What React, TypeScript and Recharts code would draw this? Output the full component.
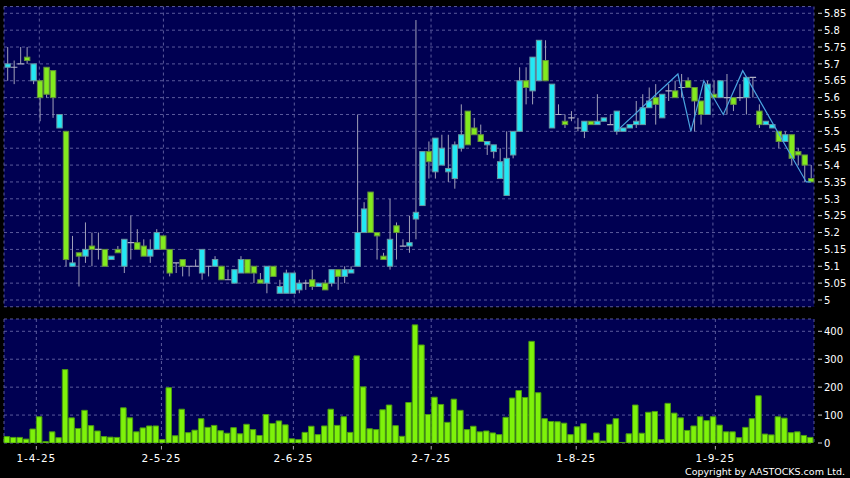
import React from 'react';
import { ComposedChart, Bar, Line, XAxis, YAxis, CartesianGrid } from 'recharts';

// ---- data (one entry per trading day, index 0..124) ----
const opens = [
  5.69, 5.69, 5.70, 5.72, 5.65, 5.65, 5.69, 5.68, 5.51, 5.50,
  5.10, 5.14, 5.13, 5.16, 5.15, 5.15, 5.12, 5.15, 5.10, 5.17,
  5.17, 5.16, 5.13, 5.15, 5.19, 5.15, 5.11, 5.12, 5.10, 5.10,
  5.08, 5.10, 5.10, 5.10, 5.06, 5.05, 5.08, 5.12, 5.10, 5.06,
  5.05, 5.10, 5.02, 5.02, 5.02, 5.03, 5.05, 5.06, 5.04, 5.05,
  5.05, 5.09, 5.07, 5.08, 5.10, 5.20, 5.32, 5.20, 5.13, 5.10,
  5.22, 5.16, 5.16, 5.24, 5.28, 5.44, 5.38, 5.40, 5.38, 5.36,
  5.45, 5.56, 5.51, 5.49, 5.46, 5.44, 5.36, 5.31, 5.43, 5.50,
  5.65, 5.62, 5.65, 5.71, 5.51, 5.55, 5.53, 5.54, 5.51, 5.50,
  5.53, 5.52, 5.53, 5.52, 5.50, 5.50, 5.51, 5.52, 5.52, 5.57,
  5.60, 5.54, 5.62, 5.62, 5.63, 5.65, 5.63, 5.59, 5.55, 5.61,
  5.60, 5.60, 5.60, 5.60, 5.60, 5.66, 5.56, 5.52, 5.51, 5.50,
  5.47, 5.49, 5.44, 5.43, 5.36,
];
const highs = [
  5.75, 5.71, 5.75, 5.75, 5.70, 5.65, 5.69, 5.68, 5.55, 5.50,
  5.19, 5.14, 5.23, 5.20, 5.20, 5.15, 5.13, 5.16, 5.18, 5.25,
  5.21, 5.18, 5.18, 5.21, 5.19, 5.15, 5.11, 5.12, 5.10, 5.12,
  5.15, 5.10, 5.13, 5.10, 5.09, 5.09, 5.13, 5.12, 5.10, 5.08,
  5.10, 5.10, 5.06, 5.09, 5.08, 5.06, 5.06, 5.09, 5.05, 5.06,
  5.09, 5.09, 5.10, 5.10, 5.55, 5.29, 5.32, 5.20, 5.14, 5.30,
  5.23, 5.18, 5.25, 5.83, 5.44, 5.47, 5.48, 5.49, 5.49, 5.47,
  5.58, 5.56, 5.54, 5.52, 5.47, 5.46, 5.45, 5.50, 5.50, 5.69,
  5.69, 5.72, 5.77, 5.77, 5.64, 5.58, 5.55, 5.56, 5.54, 5.53,
  5.53, 5.61, 5.54, 5.55, 5.56, 5.51, 5.52, 5.59, 5.61, 5.63,
  5.64, 5.61, 5.64, 5.65, 5.67, 5.66, 5.63, 5.59, 5.65, 5.65,
  5.65, 5.67, 5.60, 5.64, 5.66, 5.66, 5.58, 5.53, 5.52, 5.50,
  5.50, 5.49, 5.45, 5.43, 5.40,
];
const lows = [
  5.65, 5.64, 5.70, 5.70, 5.64, 5.53, 5.60, 5.54, 5.51, 5.10,
  5.10, 5.04, 5.11, 5.10, 5.12, 5.10, 5.12, 5.14, 5.08, 5.12,
  5.15, 5.13, 5.11, 5.15, 5.15, 5.07, 5.08, 5.07, 5.07, 5.10,
  5.06, 5.07, 5.10, 5.06, 5.06, 5.05, 5.08, 5.08, 5.05, 5.05,
  5.02, 5.07, 5.02, 5.02, 5.02, 5.02, 5.03, 5.03, 5.04, 5.03,
  5.04, 5.03, 5.05, 5.08, 5.10, 5.20, 5.20, 5.12, 5.12, 5.09,
  5.12, 5.16, 5.14, 5.18, 5.28, 5.36, 5.36, 5.40, 5.35, 5.33,
  5.44, 5.46, 5.49, 5.47, 5.43, 5.42, 5.36, 5.31, 5.42, 5.50,
  5.58, 5.58, 5.65, 5.65, 5.51, 5.55, 5.51, 5.53, 5.50, 5.48,
  5.52, 5.52, 5.53, 5.52, 5.49, 5.50, 5.51, 5.51, 5.52, 5.57,
  5.52, 5.54, 5.59, 5.60, 5.60, 5.63, 5.50, 5.52, 5.55, 5.60,
  5.60, 5.55, 5.56, 5.59, 5.55, 5.60, 5.51, 5.52, 5.51, 5.45,
  5.47, 5.40, 5.40, 5.35, 5.35,
];
const closes = [
  5.70, 5.69, 5.70, 5.71, 5.70, 5.60, 5.61, 5.60, 5.55, 5.12,
  5.11, 5.13, 5.15, 5.15, 5.15, 5.10, 5.13, 5.14, 5.18, 5.17,
  5.15, 5.13, 5.15, 5.20, 5.15, 5.08, 5.11, 5.10, 5.10, 5.10,
  5.15, 5.10, 5.12, 5.06, 5.06, 5.09, 5.12, 5.08, 5.08, 5.05,
  5.10, 5.07, 5.04, 5.08, 5.08, 5.05, 5.05, 5.04, 5.05, 5.03,
  5.09, 5.07, 5.09, 5.09, 5.20, 5.27, 5.20, 5.19, 5.12, 5.18,
  5.20, 5.16, 5.17, 5.26, 5.44, 5.41, 5.48, 5.45, 5.39, 5.46,
  5.49, 5.46, 5.49, 5.47, 5.47, 5.46, 5.41, 5.42, 5.50, 5.65,
  5.63, 5.72, 5.77, 5.65, 5.64, 5.55, 5.52, 5.54, 5.51, 5.53,
  5.52, 5.53, 5.54, 5.52, 5.56, 5.51, 5.52, 5.53, 5.57, 5.59,
  5.58, 5.61, 5.62, 5.60, 5.63, 5.63, 5.59, 5.55, 5.64, 5.60,
  5.65, 5.60, 5.58, 5.60, 5.66, 5.66, 5.52, 5.53, 5.52, 5.47,
  5.49, 5.42, 5.43, 5.40, 5.35,
];
const volumes = [
  23, 20, 20, 14, 50, 94, 5, 40, 19, 263,
  90, 52, 117, 62, 43, 23, 21, 20, 126, 90,
  40, 54, 61, 61, 12, 198, 26, 121, 37, 46,
  87, 56, 63, 44, 35, 55, 33, 67, 48, 27,
  102, 70, 79, 65, 15, 12, 38, 60, 30, 61,
  121, 63, 94, 38, 312, 201, 51, 48, 119, 136,
  62, 24, 145, 423, 351, 102, 164, 138, 74, 157,
  117, 48, 60, 40, 43, 36, 30, 92, 161, 188,
  163, 364, 180, 87, 77, 76, 71, 30, 58, 69,
  10, 36, 7, 67, 87, 2, 33, 136, 35, 110,
  113, 12, 142, 107, 90, 45, 61, 94, 80, 94,
  64, 40, 40, 19, 56, 87, 169, 32, 29, 94,
  89, 37, 40, 27, 20,
];
// zig-zag overlay line (x = day index, y = price)
const zigzagX = [94, 103.5, 105.5, 107.5, 110.5, 113.5, 123.3, 124];
const zigzagY = [5.50, 5.67, 5.50, 5.65, 5.55, 5.68, 5.35, 5.35];
// axis ticks
const dateTickPos = [4.95, 24.1, 44.3, 65.4, 87.6, 108.9];
const dateTickLabels = ['1-4-25', '2-5-25', '2-6-25', '2-7-25', '1-8-25', '1-9-25'];
const priceTicks = [5, 5.05, 5.1, 5.15, 5.2, 5.25, 5.3, 5.35, 5.4, 5.45, 5.5, 5.55, 5.6, 5.65, 5.7, 5.75, 5.8, 5.85];
const volumeTicks = [0, 100, 200, 300, 400];

// ---- built tables ----
const chartData = opens.map((o, i) => ({
  idx: i,
  open: o,
  high: highs[i],
  low: lows[i],
  close: closes[i],
  vol: volumes[i],
}));
const zigData = zigzagX.map((x, i) => ({ zx: x, zy: zigzagY[i] }));

// ---- styles / layout ----
const PLOT_BG = '#000052';
const GRID = '#5a5a9c';
const CYAN = '#22e8f4';
const CYAN_EDGE = '#6a96a2';
const GREEN = '#82ea1e';
const GREEN_EDGE = '#64923c';
const WICK = '#a0a0b8';
const DOJI = '#b0b0c4';
const VOL_FILL = '#7ef20a';
const VOL_EDGE = '#4a9a12';
const FONT = '"DejaVu Sans", Verdana, sans-serif';
const VOL_CHART_H = 168;
const VOL_XAXIS_H = 35;
const VOL_PLOT_BOTTOM = VOL_CHART_H - VOL_XAXIS_H; // in the volume chart's own svg

const fmtNum = (v: number) => String(Number(v.toFixed(2)));

const RightTick = (props: any) => {
  const { x, y, payload } = props;
  return (
    <g>
      <line x1={x + 4} x2={x + 8} y1={y} y2={y} stroke="#d0d0d0" strokeWidth={1} />
      <text x={x + 10} y={y} dy={3.7} fill="#ffffff" fontSize={10} fontFamily={FONT}>
        {fmtNum(payload.value)}
      </text>
    </g>
  );
};

const DateTick = (props: any) => {
  const { x, payload } = props;
  const k = dateTickPos.indexOf(payload.value);
  const label = k >= 0 ? dateTickLabels[k] : '';
  const y = VOL_PLOT_BOTTOM;
  return (
    <g>
      <line x1={x} x2={x} y1={y + 3} y2={y + 6.5} stroke="#b0b0b0" strokeWidth={1} />
      <text x={x} y={y + 19} textAnchor="middle" fill="#ffffff" fontSize={10.5} letterSpacing={0.9} fontFamily={FONT}>
        {label}
      </text>
    </g>
  );
};

const Candle = (props: any) => {
  const { x, y, width, height, payload } = props;
  if (x == null || y == null || !payload) return null;
  const { open, close, high, low } = payload;
  const top = Math.min(y, y + height);
  const span = Math.abs(height);
  const k = high - low > 0 ? span / (high - low) : 0;
  const py = (p: number) => top + (high - p) * k;
  const cx = x + width / 2;
  const yo = py(open);
  const yc = py(close);
  const bodyTop = Math.min(yo, yc);
  const bodyH = Math.abs(yc - yo);
  const doji = Math.abs(open - close) < 1e-9;
  const up = close > open;
  return (
    <g>
      <line x1={cx} x2={cx} y1={top} y2={top + span} stroke={WICK} strokeWidth={1} />
      {doji ? (
        <line x1={x - 0.5} x2={x + width + 0.5} y1={yo} y2={yo} stroke={DOJI} strokeWidth={1.2} />
      ) : (
        <rect
          x={x}
          y={bodyTop}
          width={width}
          height={Math.max(bodyH, 1)}
          fill={up ? CYAN : GREEN}
          stroke={up ? CYAN_EDGE : GREEN_EDGE}
          strokeWidth={1}
        />
      )}
    </g>
  );
};

export default function App() {
  return (
    <div
      style={{
        position: 'absolute',
        left: 0,
        top: 0,
        width: 850,
        height: 478,
        background: '#000000',
        overflow: 'hidden',
      }}
    >
      <div style={{ position: 'absolute', left: 0, top: 0 }}>
        <ComposedChart
          width={850}
          height={310}
          data={chartData}
          margin={{ top: 6.55, right: 0, bottom: 3.25, left: 4 }}
        >
          <CartesianGrid
            xAxisId="num"
            stroke={GRID}
            strokeDasharray="3 3"
            fill={PLOT_BG}
            fillOpacity={1}
          />
          <XAxis xAxisId="cat" dataKey="idx" type="category" hide />
          <XAxis
            xAxisId="num"
            dataKey="zx"
            type="number"
            domain={[-0.5, 124.5]}
            allowDataOverflow
            ticks={dateTickPos}
            hide
          />
          <YAxis
            orientation="right"
            width={36}
            domain={[4.98, 5.87]}
            allowDataOverflow
            ticks={priceTicks}
            interval={0}
            axisLine={false}
            tickLine={false}
            tickSize={0}
            tickMargin={0}
            tick={<RightTick />}
          />
          <Bar
            xAxisId="cat"
            dataKey={(d: any) => [d.low, d.high]}
            barSize={5.4}
            shape={(p: any) => <Candle {...p} />}
            isAnimationActive={false}
          />
          <Line
            xAxisId="num"
            data={zigData}
            dataKey="zy"
            type="linear"
            stroke="#4aa3df"
            strokeWidth={1.2}
            dot={false}
            activeDot={false}
            isAnimationActive={false}
          />
        </ComposedChart>
      </div>
      <div style={{ position: 'absolute', left: 0, top: 310 }}>
        <ComposedChart
          width={850}
          height={VOL_CHART_H}
          data={chartData}
          margin={{ top: 9, right: 0, bottom: 0, left: 4 }}
        >
          <CartesianGrid
            xAxisId="num"
            stroke={GRID}
            strokeDasharray="3 3"
            fill={PLOT_BG}
            fillOpacity={1}
          />
          <XAxis xAxisId="cat" dataKey="idx" type="category" hide />
          <XAxis
            xAxisId="num"
            type="number"
            domain={[-0.5, 124.5]}
            allowDataOverflow
            ticks={dateTickPos}
            interval={0}
            height={VOL_XAXIS_H}
            axisLine={false}
            tickLine={false}
            tickSize={0}
            tickMargin={0}
            tick={<DateTick />}
          />
          <YAxis
            orientation="right"
            width={36}
            domain={[0, 444]}
            allowDataOverflow
            ticks={volumeTicks}
            interval={0}
            axisLine={false}
            tickLine={false}
            tickSize={0}
            tickMargin={0}
            tick={<RightTick />}
          />
          <Bar
            xAxisId="cat"
            dataKey="vol"
            barSize={5.5}
            fill={VOL_FILL}
            stroke={VOL_EDGE}
            strokeWidth={1}
            isAnimationActive={false}
          />
        </ComposedChart>
      </div>
      <div
        style={{
          position: 'absolute',
          right: 5,
          top: 467,
          color: '#ffffff',
          fontFamily: FONT,
          fontSize: 9.5,
          lineHeight: '10px',
          whiteSpace: 'nowrap',
        }}
      >
        Copyright by AASTOCKS.com Ltd.
      </div>
    </div>
  );
}
